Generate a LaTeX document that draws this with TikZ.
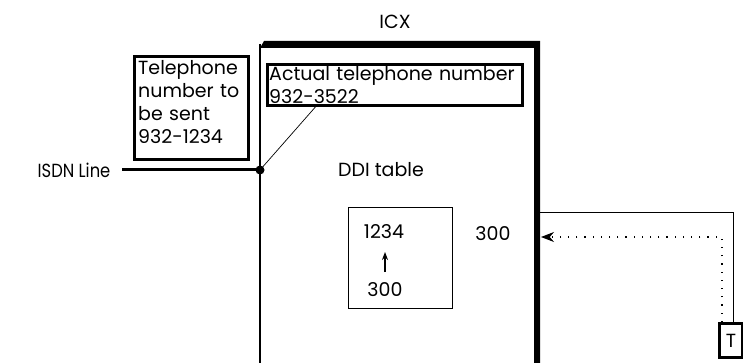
\documentclass[tikz,border=0pt]{standalone}
\usepackage{fontspec}
\usepackage{graphicx}
\setmainfont{Poppins}
\usetikzlibrary{arrows.meta,positioning}
\tikzset{
  lbl/.style={inner sep=0pt, font=\fontsize{19}{23}\selectfont},
  thickbox/.style={draw, line width=3pt, inner sep=0pt},
  thinbox/.style={draw, line width=0.9pt, inner sep=0pt},
}
\begin{document}
\begin{tikzpicture}[x=1pt,y=-1pt]
\useasboundingbox (0,0) rectangle (743,363);
% ICX frame
\node[lbl] (icx) at (395,22) {ICX};
\fill (260,48) -- (264,41) -- (540,41) -- (540,363) -- (534,363) -- (534,48) -- cycle;
\draw[line width=1.5pt] (260,44) -- (260,363);
% telephone number box
\node[thickbox, minimum width=114pt, minimum height=103pt, anchor=north west] (tel) at (133,55) {};
\node[lbl, anchor=north west, align=left, text width=110pt] (teltext) at (138,60) {Telephone\\number to\\be sent\\932-1234};
% actual number box
\node[thickbox, minimum width=255pt, minimum height=41pt, anchor=north west] (act) at (266,63) {};
\node[lbl, anchor=north west, align=left, text width=250pt] (acttext) at (269,66) {Actual telephone number\\932-3522};
% ISDN line
\node[lbl] (isdn) at (74,170) {\scalebox{0.86}[1]{ISDN Line}};
\coordinate (lstart) at (122,170);
\coordinate (junc) at (260,170);
\draw[line width=3pt] (lstart) -- (junc);
\fill (junc) circle (4.5);
\coordinate (actfoot) at (318,104);
\draw[line width=0.7pt] (actfoot) -- (junc);
% DDI table
\node[lbl] (ddi) at (381,170) {DDI table};
\node[thinbox, minimum width=104pt, minimum height=101pt, anchor=north west] (tbl) at (348,207) {};
\node[lbl] (n1234) at (384,232) {1234};
\node[lbl] (n300a) at (385,290) {300};
\draw[-{Stealth[length=8pt,width=6pt]}, line width=1.2pt] (385,272) coordinate (arrs) -- (385,252) coordinate (arre);
\node[lbl] (n300b) at (493,234) {300};
% telephone T
\node[thickbox, minimum width=23pt, minimum height=34pt, anchor=north west, font=\fontsize{19}{23}\selectfont] (T) at (718,322) {T};
\coordinate (solidtop) at (540,213);
\coordinate (solidcorner) at (733,213);
\draw[line width=1pt] (solidtop) -- (solidcorner) -- (solidcorner |- T.north);
\coordinate (dotcorner) at (722,237);
\coordinate (dotend) at (541,237);
\draw[dash pattern=on 1.2pt off 7pt, line width=1.1pt, -{Stealth[length=13pt,width=10pt]}] (dotcorner |- T.north) -- (dotcorner) -- (dotend);
\end{tikzpicture}
\end{document}
